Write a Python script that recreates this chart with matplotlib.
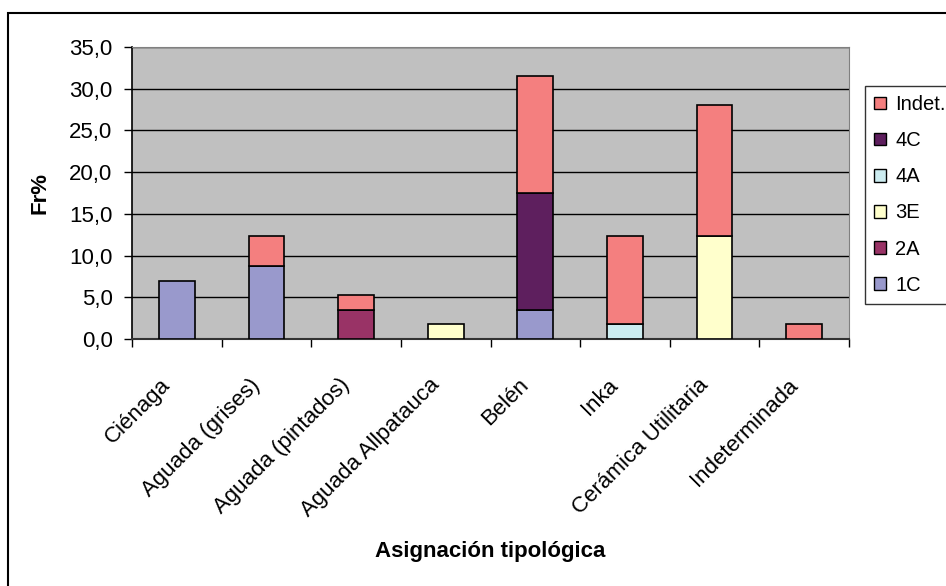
import numpy as np
import matplotlib.pyplot as plt
import matplotlib.transforms as mtransforms
from matplotlib.patches import Rectangle, Patch

plt.rcParams['font.family'] = ['Liberation Sans', 'DejaVu Sans']

categorias = ['Ciénaga', 'Aguada (grises)', 'Aguada (pintados)', 'Aguada Allpatauca',
              'Belén', 'Inka', 'Cerámica Utilitaria', 'Indeterminada']

# porcentajes por tipo de pasta (Fr%)
v_1C = [7.0, 8.8, 0.0, 0.0, 3.5, 0.0, 0.0, 0.0]
v_2A = [0.0, 0.0, 3.5, 0.0, 0.0, 0.0, 0.0, 0.0]
v_3E = [0.0, 0.0, 0.0, 1.8, 0.0, 0.0, 12.3, 0.0]
v_4A = [0.0, 0.0, 0.0, 0.0, 0.0, 1.8, 0.0, 0.0]
v_4C = [0.0, 0.0, 0.0, 0.0, 14.0, 0.0, 0.0, 0.0]
v_indet = [0.0, 3.5, 1.8, 0.0, 14.0, 10.5, 15.8, 1.8]

series = [('1C', v_1C, '#9999CC'),
          ('2A', v_2A, '#993366'),
          ('3E', v_3E, '#FFFFCC'),
          ('4A', v_4A, '#CCECF0'),
          ('4C', v_4C, '#5E1F5E'),
          ('Indet.', v_indet, '#F47F7F')]

fs = 16

fig = plt.figure(figsize=(9.46, 5.86), dpi=100)
ax = fig.add_axes([132 / 946, 1 - 339 / 586, (849 - 132) / 946, (339 - 47) / 586])
ax.set_facecolor('#C0C0C0')

x = np.arange(len(categorias))
base = np.zeros(len(categorias))
for nombre, vals, color in series:
    vals = np.array(vals)
    mask = vals > 0
    ax.bar(x[mask], vals[mask], bottom=base[mask], width=0.4, color=color,
           edgecolor='black', linewidth=1.2, zorder=3)
    base += vals

ax.set_xlim(-0.5, len(categorias) - 0.5)
ax.set_ylim(0, 35)
yt = np.arange(0, 36, 5)
ax.set_yticks(yt)
ax.set_yticklabels([('%.1f' % v).replace('.', ',') for v in yt])
ax.yaxis.grid(True, color='black', linewidth=1, zorder=1)
ax.set_axisbelow(True)

# marcas del eje x entre categorías
ax.set_xticks(np.arange(-0.5, len(categorias), 1))
ax.set_xticklabels([])
ax.set_xticks(x, minor=True)
ax.set_xticklabels(categorias, minor=True, rotation=45, ha='right', va='top',
                   rotation_mode='anchor', fontsize=fs)
ax.tick_params(axis='x', which='minor', length=0, pad=22)
ax.tick_params(axis='x', which='major', length=6, width=1, color='black')
ax.tick_params(axis='y', length=6, width=1, labelsize=fs, pad=8)

# corre las etiquetas rotadas un poco a la izquierda
desplaz = mtransforms.ScaledTranslation(-17 / 100, -5 / 100, fig.dpi_scale_trans)
for lbl in ax.get_xticklabels(minor=True):
    lbl.set_transform(lbl.get_transform() + desplaz)

for s in ['top', 'right']:
    ax.spines[s].set_color('#808080')
ax.spines['left'].set_linewidth(1.2)
ax.spines['bottom'].set_linewidth(1.5)
ax.spines['bottom'].set_color('#333333')

ax.set_ylabel('Fr%', fontsize=fs, fontweight='bold')
ax.yaxis.set_label_coords(-(132 - 51) / 717, 0.5)
fig.text(490 / 946, 1 - 552 / 586, 'Asignación tipológica', fontsize=fs,
         fontweight='bold', ha='center', va='center')

handles = [Patch(facecolor=c, edgecolor='black', label=n) for n, _, c in series][::-1]
leg = fig.legend(handles=handles, loc='upper left',
                 bbox_to_anchor=(865 / 946, 1 - 86 / 586), fontsize=14.5,
                 frameon=True, fancybox=False, handlelength=0.6, handleheight=0.6,
                 handletextpad=0.45, labelspacing=0.85, borderpad=0.45,
                 borderaxespad=0)
leg.get_frame().set_edgecolor('black')
leg.get_frame().set_linewidth(1)

# marco exterior del gráfico
fig.patches.append(Rectangle((8 / 946, -0.1), 2, 1 - 13 / 586 + 0.1,
                             transform=fig.transFigure, fill=False,
                             edgecolor='black', linewidth=1.5))

fig.savefig('out.png', dpi=100)
